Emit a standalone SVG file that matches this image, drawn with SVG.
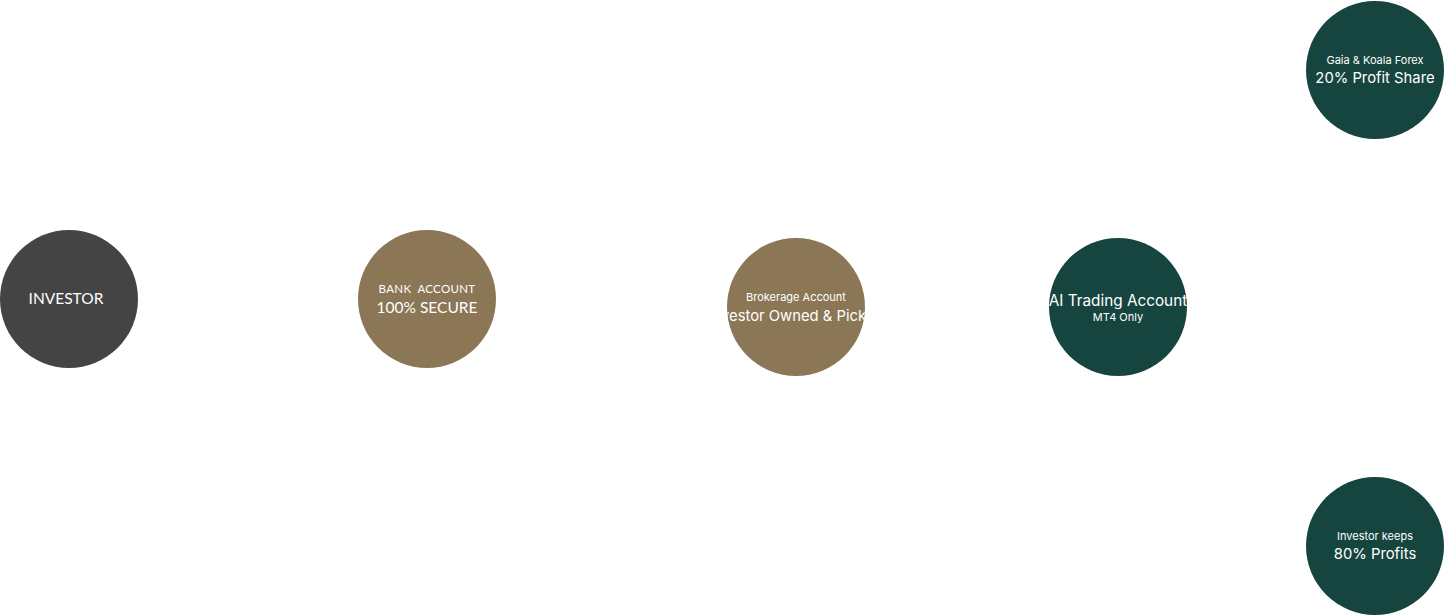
<svg xmlns="http://www.w3.org/2000/svg" width="1444" height="615" viewBox="0 0 1444 615">
<style>
.t{fill:#ffffff;text-anchor:middle;font-family:Lato,"Noto Sans",sans-serif}
.s{font-size:11.5px}
.l{font-size:15.5px}
.i{font-family:Inter,Lato,sans-serif}
.is{font-size:11px}
.il{font-size:14.8px}
.gray{fill:#444444}
.brown{fill:#8b7655}
.green{fill:#164540}
</style>
<defs>
<clipPath id="cBrok"><circle cx="796" cy="307" r="69"/></clipPath>
<clipPath id="cAI"><circle cx="1118" cy="307" r="69"/></clipPath>
</defs>
<rect width="1444" height="615" fill="#ffffff"/>
<g id="connectors"></g>
<g id="investor">
<circle class="gray" cx="69" cy="299" r="69"/>
<text class="t" x="66" y="304" font-size="15.5">INVESTOR</text>
</g>
<g id="bank">
<circle class="brown" cx="427" cy="299" r="69"/>
<text class="t s" x="427" y="293" letter-spacing="0.3" xml:space="preserve" style="white-space:pre">BANK  ACCOUNT</text>
<text class="t l" x="427" y="313">100% SECURE</text>
</g>
<g id="brokerage">
<circle class="brown" cx="796" cy="307" r="69"/>
<g clip-path="url(#cBrok)">
<text class="t i is" x="796" y="301">Brokerage Account</text>
<text class="t i il" x="796" y="321">Investor Owned &amp; Picked</text>
</g>
</g>
<g id="ai">
<circle class="green" cx="1118" cy="307" r="69"/>
<g clip-path="url(#cAI)">
<text class="t i" x="1118" y="306" font-size="15.3">AI Trading Account</text>
<text class="t i is" x="1118" y="321">MT4 Only</text>
</g>
</g>
<g id="gaia">
<circle class="green" cx="1375" cy="70" r="69"/>
<text class="t i is" x="1375" y="64">Gaia &amp; Koala Forex</text>
<text class="t i il" x="1375" y="83">20% Profit Share</text>
</g>
<g id="keeps">
<circle class="green" cx="1375" cy="546" r="69"/>
<text class="t i is" x="1375" y="540">Investor keeps</text>
<text class="t i il" x="1375" y="559">80% Profits</text>
</g>
</svg>
